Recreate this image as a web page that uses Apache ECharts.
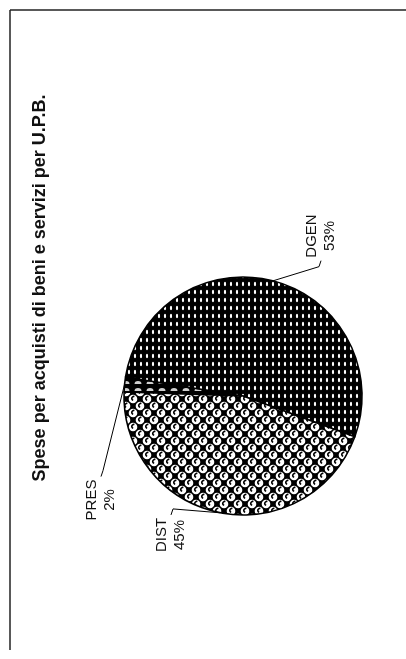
<!DOCTYPE html>
<html>
<head>
<meta charset="utf-8">
<script src="https://cdn.jsdelivr.net/npm/echarts@6/dist/echarts.min.js"></script>
<style>
  html, body { margin: 0; padding: 0; background: #ffffff; }
  #chart { width: 406px; height: 659px; }
</style>
</head>
<body>
<div id="chart"></div>
<script>
// Expenditure on goods and services, split by budget unit (U.P.B.)
const titleText = 'Spese per acquisti di beni e servizi per U.P.B.';
const categories = ['PRES', 'DGEN', 'DIST'];
const shares = [2, 53, 45];

// Where each two-line label block sits (centre of the block, page pixels)
const labelSpots = {
  PRES: { x: 101, y: 500 },
  DGEN: { x: 321, y: 236 },
  DIST: { x: 171, y: 535 }
};

// Hatch-style fills built on small canvases
function makeTile(w, h, draw) {
  const c = document.createElement('canvas');
  c.width = w; c.height = h;
  draw(c.getContext('2d'), w, h);
  return c;
}

// fine white dashes on black
const dotTile = makeTile(6, 8, (ctx, w, h) => {
  ctx.fillStyle = '#000';
  ctx.fillRect(0, 0, w, h);
  ctx.fillStyle = '#fff';
  ctx.beginPath();
  ctx.ellipse(3, 4, 1.1, 2.2, 0, 0, Math.PI * 2);
  ctx.fill();
});

// white rings on a black lattice
const weaveTile = makeTile(14, 14, (ctx, w, h) => {
  ctx.fillStyle = '#000';
  ctx.fillRect(0, 0, w, h);
  const spots = [[0, 0], [w, 0], [0, h], [w, h], [w / 2, h / 2]];
  spots.forEach(([cx, cy]) => {
    ctx.fillStyle = '#fff';
    ctx.beginPath();
    ctx.arc(cx, cy, 4.3, 0, Math.PI * 2);
    ctx.fill();
    ctx.strokeStyle = '#000';
    ctx.lineWidth = 1.6;
    ctx.beginPath();
    ctx.arc(cx + 0.8, cy - 0.6, 2, 0.6 * Math.PI, 1.6 * Math.PI);
    ctx.stroke();
  });
});

// pale humps on black
const humpTile = makeTile(12, 7, (ctx, w, h) => {
  ctx.fillStyle = '#000';
  ctx.fillRect(0, 0, w, h);
  ctx.fillStyle = '#cfcfcf';
  ctx.beginPath();
  ctx.ellipse(6, 6, 3.5, 3, 0, Math.PI, 2 * Math.PI);
  ctx.fill();
});

const fills = {
  PRES: { image: humpTile, repeat: 'repeat' },
  DGEN: { image: dotTile, repeat: 'repeat' },
  DIST: { image: weaveTile, repeat: 'repeat' }
};

const chart = echarts.init(document.getElementById('chart'), null, { renderer: 'canvas' });

chart.setOption({
  backgroundColor: '#ffffff',
  animation: false,
  graphic: [
    {
      type: 'line',
      shape: { x1: 10, y1: 10, x2: 10, y2: 650 },
      style: { stroke: '#222', lineWidth: 1.5 }
    },
    {
      type: 'line',
      shape: { x1: 10, y1: 10, x2: 406, y2: 10 },
      style: { stroke: '#222', lineWidth: 1.5 }
    },
    {
      type: 'text',
      x: 40,
      y: 288,
      rotation: Math.PI / 2,
      style: {
        text: titleText,
        font: 'bold 18px "Liberation Sans", Arial, sans-serif',
        fill: '#111',
        align: 'center',
        verticalAlign: 'middle',
        textAlign: 'center',
        textVerticalAlign: 'middle'
      }
    }
  ],
  series: [
    {
      type: 'pie',
      center: [243, 396],
      radius: 119,
      startAngle: 178,
      clockwise: true,
      avoidLabelOverlap: false,
      silent: true,
      data: categories.map((name, i) => ({
        name: name,
        value: shares[i],
        itemStyle: { color: fills[name] }
      })),
      itemStyle: { borderColor: '#000', borderWidth: 1.6 },
      label: {
        show: true,
        position: 'outside',
        rotate: 90,
        formatter: p => p.name + '\n' + p.value + '%',
        color: '#111',
        fontFamily: '"Liberation Sans", Arial, sans-serif',
        fontSize: 15,
        lineHeight: 18,
        align: 'center'
      },
      labelLine: {
        show: true,
        length: 10,
        length2: 6,
        lineStyle: { color: '#000', width: 1 }
      },
      labelLayout: function (params) {
        const name = categories[params.dataIndex];
        const spot = labelSpots[name];
        const half = params.labelRect.height / 2;
        const start = params.labelLinePoints ? params.labelLinePoints[0] : [spot.x, spot.y];
        let end, elbow;
        if (name === 'DGEN') {
          end = [spot.x, spot.y + half + 3];
          elbow = [spot.x - 2, end[1] + 6];
        } else {
          end = [spot.x, spot.y - half - 3];
          elbow = [spot.x + 2, end[1] - 6];
        }
        return {
          x: spot.x,
          y: spot.y,
          align: 'center',
          verticalAlign: 'middle',
          labelLinePoints: [start, elbow, end]
        };
      }
    }
  ]
});
</script>
</body>
</html>
